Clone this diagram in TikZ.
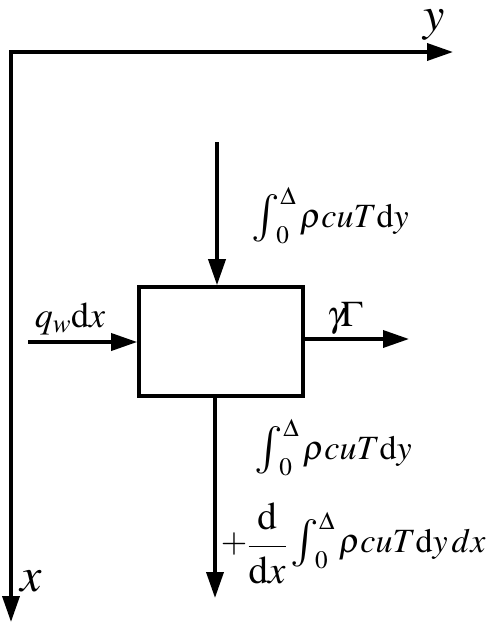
\documentclass[tikz,border=0pt]{standalone}
\usepackage{mathptmx}
\usepackage{graphicx}
\usetikzlibrary{arrows.meta}
\newcommand{\myint}{\mathop{\vcenter{\hbox{\scalebox{1.4}{$\int$}}}}\nolimits}
\newcommand{\myfrac}{\vcenter{\hbox{\scalebox{1.15}{$\displaystyle\frac{\mathrm{d}}{\mathrm{d}x}$}}}}
\begin{document}
\begin{tikzpicture}[x=1pt,y=-1pt,line width=3.6pt,
  arr/.style={-{Triangle[length=26pt,width=17pt]}},
  lbl/.style={inner sep=0pt,font=\fontsize{36}{42}\selectfont},
  ilbl/.style={inner sep=0pt,font=\fontsize{34}{40}\selectfont},
  axlbl/.style={inner sep=0pt,font=\fontsize{48}{54}\selectfont}]
\useasboundingbox (0,0) rectangle (498,625);
% axes
\coordinate (O) at (11,52);
\coordinate (Y) at (453,52);
\coordinate (X) at (11,622);
\draw[{Triangle[length=26pt,width=17pt]}-{Triangle[length=26pt,width=17pt]},line join=miter] (Y) -- (O) -- (X);
\node[axlbl,anchor=base] (ylab) at (434,30) {$y$};
\node[axlbl,anchor=base] (xlab) at (31,591) {$x$};
% control volume
\node[draw,minimum width=164pt,minimum height=109pt,inner sep=0pt] (box) at (221,341.5) {};
% top inflow
\coordinate (ts) at (217,142);
\draw[arr] (ts) -- (ts |- box.north);
\node[ilbl,anchor=base west] (tlab) at (250,227) {$\myint_{\kern-4pt0}^{\Delta} \rho c u T\mathrm{d}y$};
% left inflow
\coordinate (ls) at (28,342);
\draw[arr] (ls) -- (ls -| box.west);
\node[lbl,anchor=base west] (llab) at (33,327) {$q_w\mathrm{d}x$};
% right outflow
\coordinate (re) at (409,339);
\draw[arr] (re -| box.east) -- (re);
\node[lbl,anchor=base west] (rlab) at (325,326) {$\gamma\!\Gamma$};
% bottom outflow
\coordinate (be) at (215,598);
\draw[arr] (be |- box.south) -- (be);
\node[ilbl,anchor=base west] (blab1) at (253,459) {$\myint_{\kern-4pt0}^{\Delta} \rho c u T\mathrm{d}y$};
\node[ilbl,anchor=base west] (blab2) at (219,552) {$+\myfrac\myint_{\kern-4pt0}^{\Delta} \rho c u T\mathrm{d}y\,dx$};
\end{tikzpicture}
\end{document}
